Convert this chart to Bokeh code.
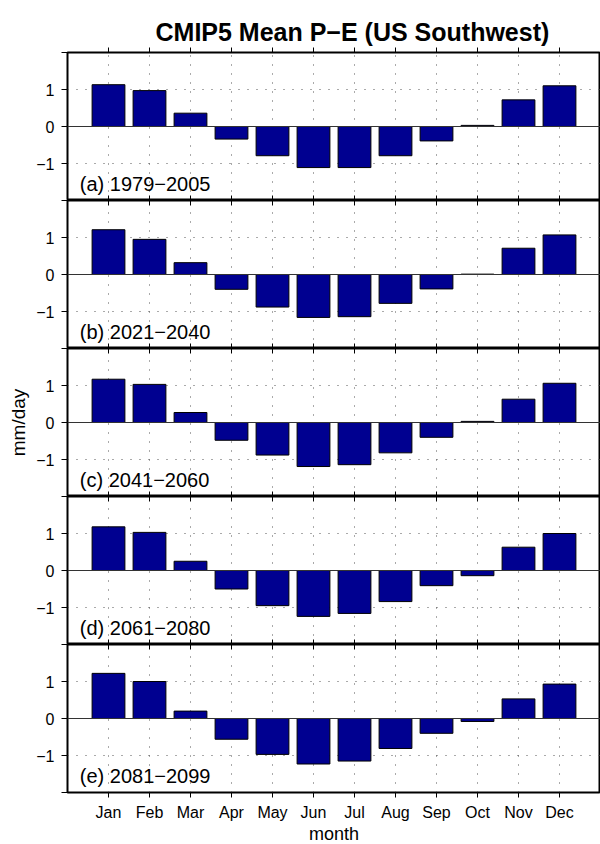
from bokeh.plotting import figure
from bokeh.layouts import column
from bokeh.models import FixedTicker, CustomJSTickFormatter, Span, Label, LinearAxis
from bokeh.embed import file_html
from bokeh.resources import INLINE

# ---------------- data ----------------
months = ["Jan", "Feb", "Mar", "Apr", "May", "Jun", "Jul", "Aug", "Sep", "Oct", "Nov", "Dec"]
month_pos = [1, 2, 3, 4, 5, 6, 7, 8, 9, 10, 11, 12]
periods = ["(a) 1979\u22122005", "(b) 2021\u22122040", "(c) 2041\u22122060",
           "(d) 2061\u22122080", "(e) 2081\u22122099"]
pe_1979_2005 = [1.13, 0.97, 0.36, -0.34, -0.79, -1.11, -1.11, -0.79, -0.39, 0.03, 0.72, 1.10]
pe_2021_2040 = [1.21, 0.95, 0.32, -0.40, -0.88, -1.16, -1.14, -0.78, -0.39, 0.01, 0.71, 1.07]
pe_2041_2060 = [1.17, 1.03, 0.27, -0.48, -0.88, -1.19, -1.14, -0.82, -0.40, 0.03, 0.63, 1.06]
pe_2061_2080 = [1.18, 1.03, 0.25, -0.50, -0.95, -1.24, -1.16, -0.84, -0.41, -0.14, 0.63, 1.00]
pe_2081_2099 = [1.22, 1.00, 0.20, -0.56, -0.97, -1.23, -1.15, -0.81, -0.40, -0.08, 0.53, 0.93]
series = [pe_1979_2005, pe_2021_2040, pe_2041_2060, pe_2061_2080, pe_2081_2099]
y_ticks = [-2, -1, 0, 1, 2]
grid_y = [-1, 1]
title_text = "CMIP5 Mean P\u2212E (US Southwest)"

# ---------------- style ----------------
FONT = "Liberation Sans"
BAR = "#000090"
YMIN, YMAX = -2, 2
TICK = 5.0 / 37.0  # inner tick length in data units

yfmt_code = """
if (Math.abs(tick) > 1.5) { return ""; }
return tick < 0 ? "\u2212" + Math.abs(tick) : String(tick);
"""

figs = []
n = len(series)
for i, (lab, vals) in enumerate(zip(periods, series)):
    first = i == 0
    last = i == n - 1
    p = figure(frame_width=533, frame_height=148, x_range=(0, 13), y_range=(YMIN, YMAX),
               output_backend="svg", toolbar_location=None,
               min_border_left=67, min_border_right=0,
               min_border_top=52 if first else 0, min_border_bottom=52 if last else 0,
               background_fill_color="white", border_fill_color="white")
    p.outline_line_color = "black"
    p.outline_line_width = 2

    # grids
    p.xgrid.ticker = FixedTicker(ticks=month_pos)
    p.ygrid.ticker = FixedTicker(ticks=grid_y)
    for g in (p.xgrid, p.ygrid):
        g.grid_line_color = "#555555"
        g.grid_line_dash = "1 8"
        g.grid_line_width = 1

    # y axis
    ya = p.yaxis[0]
    ya.ticker = FixedTicker(ticks=y_ticks)
    ya.formatter = CustomJSTickFormatter(code=yfmt_code)
    ya.major_tick_out = 6
    ya.major_tick_in = 0
    ya.minor_tick_out = 0
    ya.minor_tick_in = 0
    ya.axis_line_color = None
    ya.major_tick_line_color = "black"
    ya.major_label_standoff = 7
    ya.major_label_text_font = FONT
    ya.major_label_text_font_size = "16px"
    ya.major_label_text_color = "black"
    if i == 2:
        ya.axis_label = "mm/day"
        ya.axis_label_text_font = FONT
        ya.axis_label_text_font_size = "19px"
        ya.axis_label_text_font_style = "normal"
        ya.axis_label_text_color = "black"
        ya.axis_label_standoff = 4

    # x axis
    xa = p.xaxis[0]
    xa.ticker = FixedTicker(ticks=month_pos)
    xa.major_label_overrides = {m: name for m, name in zip(month_pos, months)}
    xa.major_tick_out = 5
    xa.major_tick_in = 0
    xa.minor_tick_out = 0
    xa.minor_tick_in = 0
    xa.axis_line_color = None
    xa.major_label_standoff = 6
    xa.major_label_text_font = FONT
    xa.major_label_text_font_size = "16px"
    xa.major_label_text_color = "black"
    if last:
        xa.axis_label = "month"
        xa.axis_label_text_font = FONT
        xa.axis_label_text_font_size = "18px"
        xa.axis_label_text_font_style = "normal"
        xa.axis_label_text_color = "black"
        xa.axis_label_standoff = 0
    else:
        xa.visible = False

    if first:
        top = LinearAxis(ticker=FixedTicker(ticks=month_pos), major_tick_out=5, major_tick_in=0,
                         minor_tick_out=0, minor_tick_in=0, axis_line_color=None,
                         major_label_text_font_size="1px", major_label_standoff=8,
                         major_label_text_alpha=0)
        p.add_layout(top, "above")
        p.title.text = title_text
        p.title.text_font = FONT
        p.title.text_font_size = "25px"
        p.title.text_font_style = "bold"
        p.title.text_color = "black"
        p.title.align = "left"
        p.title.offset = 88
        p.title.standoff = 4

    # inner ticks at panel boundaries
    if not first:
        p.segment(x0=month_pos, x1=month_pos, y0=YMAX, y1=YMAX - TICK,
                  line_color="black", line_width=1)
    if not last:
        p.segment(x0=month_pos, x1=month_pos, y0=YMIN, y1=YMIN + TICK,
                  line_color="black", line_width=1)

    # bars
    p.vbar(x=month_pos, top=vals, bottom=0, width=0.8,
           fill_color=BAR, line_color="black", line_width=1)

    # zero line
    p.add_layout(Span(location=0, dimension="width", line_color="#333333", line_width=1))

    # panel label
    p.add_layout(Label(x=0.3, y=-1.55, text=lab, text_baseline="middle",
                       text_font=FONT, text_font_size="20px", text_color="black"))
    figs.append(p)

layout = column(*figs, spacing=0)
open("out.html", "w").write(file_html(layout, INLINE))
